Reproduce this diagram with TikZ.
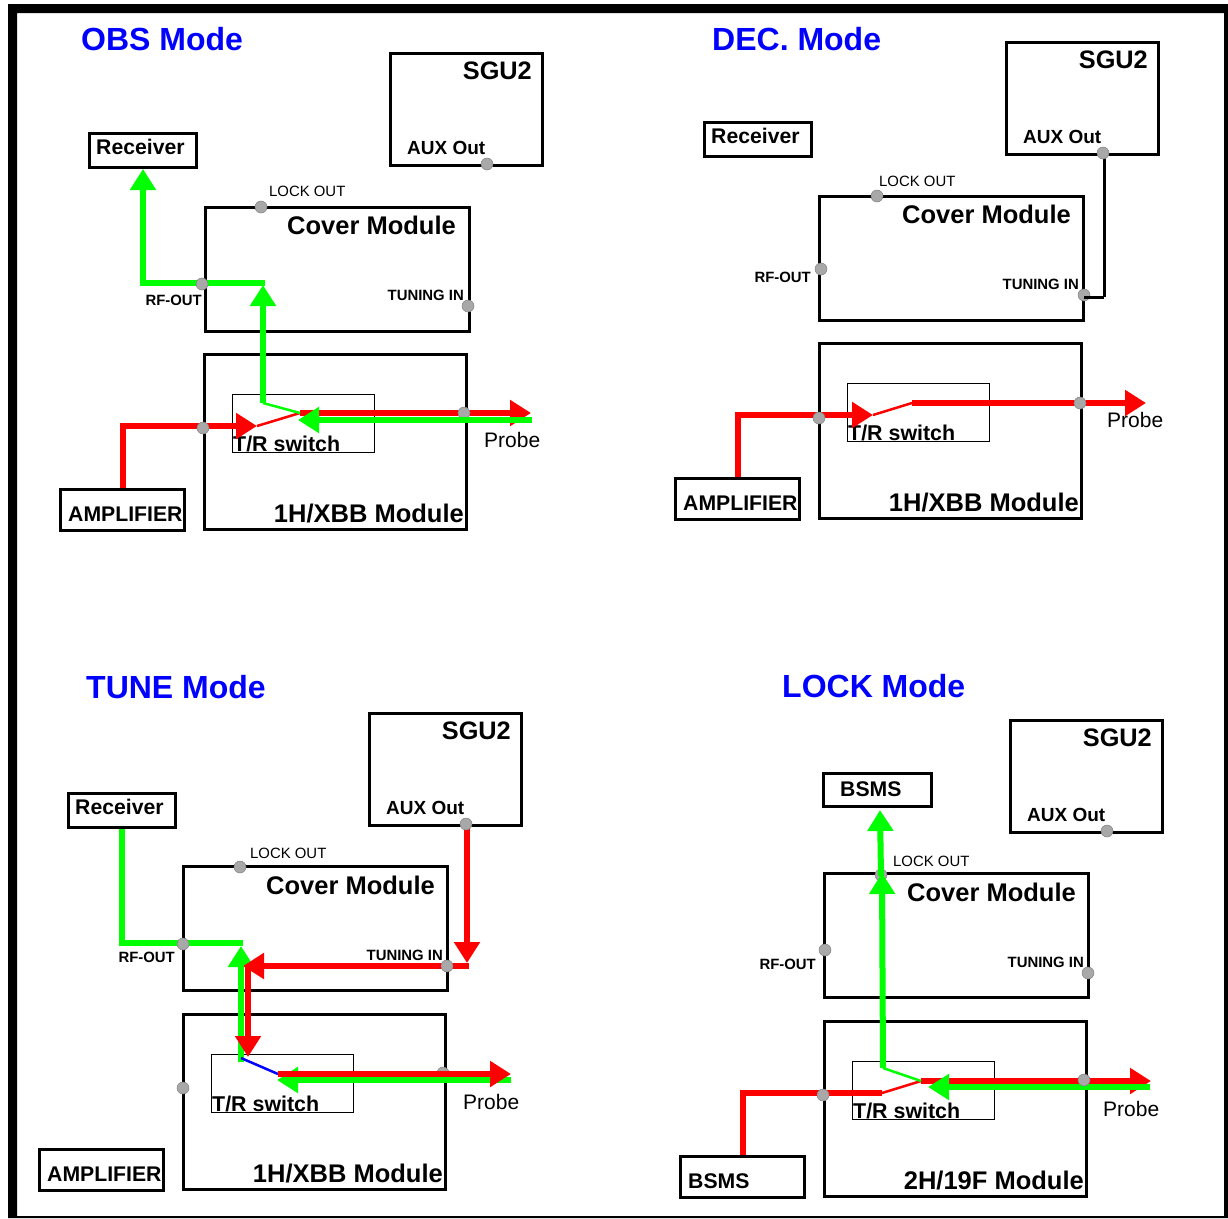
\documentclass[tikz,border=0pt]{standalone}
\usepackage{fontspec}
\setmainfont{Liberation Sans}
\usetikzlibrary{arrows.meta}
\pgfdeclarelayer{toplayer}
\pgfsetlayers{main,toplayer}
\definecolor{vgreen}{HTML}{00FF00}
\definecolor{vred}{HTML}{FF0000}
\definecolor{vblue}{HTML}{0000FF}
\definecolor{vport}{HTML}{A8A8A8}
\newcommand{\fsz}[1]{\fontsize{#1}{#1}\selectfont}
\tikzset{
  modbox/.style={draw=black,line width=3pt,fill=none,inner sep=0pt},
  swbox/.style={draw=black,line width=1pt,fill=none,inner sep=0pt},
  port/.style={circle,fill=vport,draw=gray,line width=0.5pt,inner sep=0pt,minimum size=12pt},
  titl/.style={font=\fsz{32}\bfseries,text=vblue,anchor=base west,inner sep=0pt},
  bigl/.style={font=\fsz{25.5}\bfseries,anchor=base east,inner sep=0pt},
  midl/.style={font=\fsz{21.2}\bfseries,anchor=base west,inner sep=0pt},
  smal/.style={font=\fsz{14.9}\bfseries,anchor=base east,inner sep=0pt},
  garr/.style={-{Triangle[length=21pt,width=25pt]},line width=6pt,draw=vgreen},
  rarr/.style={-{Triangle[length=21pt,width=25pt]},line width=6pt,draw=vred},
  gwire/.style={line width=6pt,draw=vgreen},
  rwire/.style={line width=6pt,draw=vred},
  twire/.style={line width=2.5pt},
}
\begin{document}
\begin{tikzpicture}[x=1pt,y=-1pt]
  \useasboundingbox (0,0) rectangle (1228,1218);
  \fill[black,even odd rule] (8,4) rectangle (1228,1218) (17,13) rectangle (1224,1216);
  % titles
  \node[titl] (obst) at (81,50) {OBS Mode};
  \node[titl] (dect) at (712,50) {DEC. Mode};
  \node[titl] (tunt) at (86,698) {TUNE Mode};
  \node[titl] (lokt) at (782,697) {LOCK Mode};
  % the same boxes in each of the four
  \foreach \pn/\dx/\dy in {obs/0/0,dec/615/-11,tune/-21/660}{
  \begin{scope}[shift={(\dx,\dy)},name prefix=\pn-]
    \node[modbox,minimum width=107pt,minimum height=34pt] (rec) at (143,150.5) {};
    \node[midl] (rect) at (96,154) {Receiver};
    \node[modbox,minimum width=124pt,minimum height=41pt] (amp) at (122.5,510) {};
    \node[midl] (ampt) at (68,521) {AMPLIFIER};
  \end{scope}
  }
  \foreach \pn/\dx/\dy/\ox/\oy/\md in {obs/0/0/0/0/{1H/XBB},dec/615/-11/-1/0/{1H/XBB},tune/-21/660/-1/-1/{1H/XBB},lock/620/667/-1/-1/{2H/19F}}{
  \begin{scope}[shift={(\dx,\dy)},name prefix=\pn-]
    \node[modbox,minimum width=264pt,minimum height=124pt] (cov) at (337.5+\ox,269.5+\oy) {};
    \node[bigl] (covt) at (456,234) {Cover Module};
    \node[modbox,minimum width=262pt,minimum height=175pt] (mod) at (335.5,442) {};
    \node[bigl] (modt) at (464,522) {\md{} Module};
    \node[swbox,minimum width=142pt,minimum height=58pt] (sw) at (303.5,423) {};
    \node[font=\fsz{21.4}\bfseries,anchor=base west,inner sep=0pt] (swt) at (233,451) {T/R switch};
    \node[smal] (tunt) at (464,300) {TUNING IN};
  \end{scope}
  }
  % sgu2
  \foreach \pn/\dx/\dy in {obs/0/0,dec/616/-11,tune/-21/660,lock/620/667}{
  \begin{scope}[shift={(\dx,\dy)},name prefix=\pn-]
    \node[modbox,minimum width=152pt,minimum height=112pt] (sgu) at (466.5,109.5) {};
    \node[font=\fsz{25.3}\bfseries,anchor=base east,inner sep=0pt] (sgut) at (532,79) {SGU2};
    \node[font=\fsz{19}\bfseries,anchor=base west,inner sep=0pt] (auxt) at (407,154) {AUX Out};
  \end{scope}
  }
  \node[modbox,minimum width=108pt,minimum height=33pt] (lock-rec) at (877.5,790) {};
  \node[midl] (lock-rect) at (840,796) {BSMS};
  \node[modbox,minimum width=124pt,minimum height=41pt] (lock-amp) at (742.5,1177) {};
  \node[midl] (lock-ampt) at (688,1188) {BSMS};
  % rf-out, lock-out and probe texts
  \node[smal] (obs-rft) at (202,305) {RF-OUT};
  \node[smal] (dec-rft) at (811,282) {RF-OUT};
  \node[smal] (tune-rft) at (175,962) {RF-OUT};
  \node[smal] (lock-rft) at (816,969) {RF-OUT};
  \foreach \pn/\cx/\cy in {obs/269/196,dec/879/186,tune/250/858,lock/893/866}{
    \node[font=\fsz{14.9},anchor=base west,inner sep=0pt] (\pn-lockt) at (\cx,\cy) {LOCK OUT};
  }
  \foreach \pn/\cx/\cy in {obs/484/447,dec/1107/427,tune/463/1109,lock/1103/1116}{
    \node[font=\fsz{21},anchor=base west,inner sep=0pt] (\pn-prt) at (\cx,\cy) {Probe};
  }
  % ports
  \begin{pgfonlayer}{toplayer}
  \foreach \nm/\cx/\cy in {obs-lock/261/207,obs-rf/202/284,obs-tun/468/306,obs-aux/487/164,obs-in/203/428,obs-out/464/413,
    dec-lock/877/196,dec-rf/821/269,dec-tun/1084/295,dec-aux/1103/153,dec-in/819/418,dec-out/1080/403,
    tune-lock/240/867,tune-rf/183/944,tune-tun/447/966,tune-aux/466/824,tune-in/183/1088,tune-out/443/1073,
    lock-lock/881/875,lock-rf/825/950,lock-tun/1088/973,lock-aux/1107/831,lock-in/823/1095,lock-out/1084/1080}{
    \node[port] (\nm) at (\cx,\cy) {};
  }
  \end{pgfonlayer}
  % obs
  \coordinate (obs-a) at (263,403); \coordinate (obs-b) at (257,426); \coordinate (obs-c) at (300,413);
  \coordinate (obs-d) at (263,285); \coordinate (obs-e) at (265,283);
  \coordinate (obs-f) at (531,413); \coordinate (obs-g) at (532,420); \coordinate (obs-h) at (298,420);
  \draw[rarr] (obs-amp.north) |- (obs-b);
  \draw[rarr] (obs-c) -- (obs-f);
  \draw[vred,twire] (obs-b) -- (obs-c);
  \draw[vgreen,twire] (obs-a) -- (obs-c);
  \draw[garr] (obs-a) -- (obs-d);
  \draw[garr] (obs-e) -| (obs-rec.south);
  \begin{pgfonlayer}{toplayer}
  \draw[garr] (obs-g) -- (obs-h);
  \end{pgfonlayer}
  % dec
  \coordinate (dec-b) at (873,415); \coordinate (dec-c) at (912,403); \coordinate (dec-f) at (1146,403);
  \coordinate (dec-k) at (1104,297);
  \draw[rarr] (dec-amp.north) |- (dec-b);
  \draw[rarr] (dec-c) -- (dec-f);
  \draw[vred,twire] (dec-b) -- (dec-c);
  \draw[line width=3pt] (dec-aux.center -| dec-k) -- (dec-k);
  \begin{pgfonlayer}{toplayer}
  \draw[line width=3pt] (dec-k) -- (dec-tun.center |- dec-k);
  \end{pgfonlayer}
  % tune
  \coordinate (tune-a) at (241,1062); \coordinate (tune-b) at (241,1058); \coordinate (tune-c) at (278,1074);
  \coordinate (tune-d) at (241,946); \coordinate (tune-e) at (243,943);
  \coordinate (tune-f) at (511,1074); \coordinate (tune-g) at (511,1080); \coordinate (tune-h) at (277,1080);
  \coordinate (tune-i) at (467,963); \coordinate (tune-j) at (469,966); \coordinate (tune-l) at (243,966);
  \coordinate (tune-m) at (248,966); \coordinate (tune-n) at (248,1057);
  \draw[gwire] (tune-rec.south) |- (tune-e);
  \draw[garr] (tune-a) -- (tune-d);
  \draw[rarr] (tune-j) -- (tune-l);
  \draw[rarr] (tune-aux.center -| tune-i) -- (tune-i);
  \draw[rarr] (tune-m) -- (tune-n);
  \draw[vblue,twire] (tune-b) -- (tune-c);
  \begin{pgfonlayer}{toplayer}
  \draw[garr] (tune-g) -- (tune-h);
  \draw[rarr] (tune-c) -- (tune-f);
  \end{pgfonlayer}
  % lock
  \coordinate (lock-a) at (883,1068); \coordinate (lock-b) at (882,1093); \coordinate (lock-c) at (921,1081);
  \coordinate (lock-d) at (882,873); \coordinate (lock-e) at (881,876); \coordinate (lock-u) at (880,810);
  \coordinate (lock-f) at (1151,1081); \coordinate (lock-g) at (1150,1087); \coordinate (lock-h) at (928,1087);
  \draw[rwire] (lock-amp.north) |- (lock-b);
  \draw[rarr] (lock-c) -- (lock-f);
  \draw[vred,twire] (lock-b) -- (lock-c);
  \draw[vgreen,twire] (lock-a) -- (lock-c);
  \draw[garr] (lock-g) -- (lock-h);
  \begin{pgfonlayer}{toplayer}
  \draw[garr] (lock-e) -- (lock-u);
  \draw[garr] (lock-a) -- (lock-d);
  \end{pgfonlayer}
\end{tikzpicture}
\end{document}
